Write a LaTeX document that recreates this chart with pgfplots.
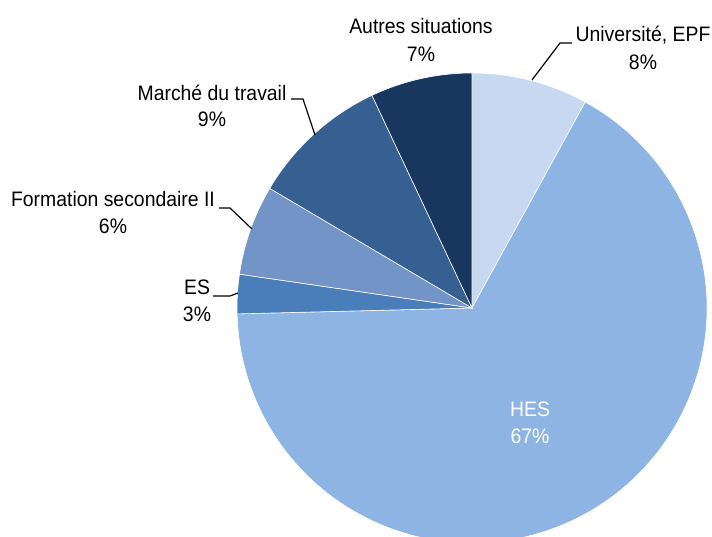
\documentclass[border=0pt]{standalone}
\usepackage{pgfplots}
\pgfplotsset{compat=1.18}
\usepackage{fontspec}
\setmainfont{Liberation Sans}
\usepackage{graphicx}

\definecolor{cuni}{HTML}{C6D9F1}
\definecolor{ches}{HTML}{8EB4E3}
\definecolor{ces}{HTML}{4A7EBB}
\definecolor{cfs}{HTML}{7394C7}
\definecolor{cmt}{HTML}{376092}
\definecolor{caut}{HTML}{17375E}

\newcommand{\lbl}[1]{\fontsize{19.4bp}{23bp}\selectfont\scalebox{1}[1.08]{#1}}

\begin{document}
\begin{tikzpicture}
\begin{axis}[
    width=712bp, height=537bp, scale only axis,
    xmin=0, xmax=712, ymin=0, ymax=537,
    hide axis, clip=true,
]
% share of each situation (%), clockwise from 12 o'clock
\pgfplotsextra{
  \def\startangle{90}
  \foreach \v/\c in {8.0/cuni, 66.6/ches, 2.7/ces, 6.2/cfs, 9.5/cmt, 7.0/caut} {
    \pgfmathsetmacro\endangle{\startangle-3.6*\v}
    \filldraw[fill=\c, draw=white, line width=0.6bp]
      (axis cs:472,229) -- ++(\startangle:235bp)
      \pgfextra{\pgfpatharc{\startangle}{\endangle}{235bp}} -- cycle;
    \xdef\startangle{\endangle}
  }
}
% leader lines
\draw[black, line width=1.2bp] (axis cs:532,457) -- (axis cs:560,494) -- (axis cs:572,494);
\draw[black, line width=1.2bp] (axis cs:291,438) -- (axis cs:303,438) -- (axis cs:315,402);
\draw[black, line width=1.2bp] (axis cs:219,329) -- (axis cs:230,329) -- (axis cs:252,308);
\draw[black, line width=1.2bp] (axis cs:213,241) -- (axis cs:230,241) -- (axis cs:238,244);
% labels
\node[anchor=base] at (axis cs:643,495) {\lbl{Université, EPF}};
\node[anchor=base] at (axis cs:643,467) {\lbl{8\%}};
\node[anchor=base] at (axis cs:421,503) {\lbl{Autres situations}};
\node[anchor=base] at (axis cs:421,475) {\lbl{7\%}};
\node[anchor=base] at (axis cs:212,436) {\lbl{Marché du travail}};
\node[anchor=base] at (axis cs:212,410) {\lbl{9\%}};
\node[anchor=base] at (axis cs:113,330) {\lbl{Formation secondaire II}};
\node[anchor=base] at (axis cs:113,303) {\lbl{6\%}};
\node[anchor=base] at (axis cs:197,242) {\lbl{ES}};
\node[anchor=base] at (axis cs:197,215) {\lbl{3\%}};
\node[anchor=base, text=white] at (axis cs:530,120) {\lbl{HES}};
\node[anchor=base, text=white] at (axis cs:530,93) {\lbl{67\%}};
\end{axis}
\pgfresetboundingbox
\useasboundingbox (current axis.south west) rectangle (current axis.north east);
\end{tikzpicture}
\end{document}
